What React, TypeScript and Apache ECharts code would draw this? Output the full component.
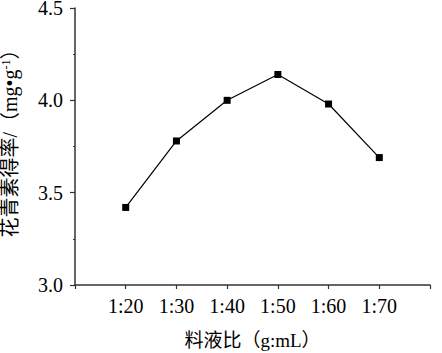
import React, { useEffect, useRef } from "react";
import * as echarts from "echarts";

const categories = ["", "1:20", "1:30", "1:40", "1:50", "1:60", "1:70", ""];
const values: (number | null)[] = [null, 3.42, 3.78, 4.0, 4.14, 3.98, 3.69, null];
const yTicks = { min: 3.0, max: 4.5, interval: 0.5 };

const SERIF = '"Liberation Serif", "Times New Roman", "Noto Sans CJK SC", serif';
const AXIS_COLOR = "#333";

export default function App() {
  const ref = useRef<HTMLDivElement>(null);
  useEffect(() => {
    if (!ref.current) return;
    const chart = echarts.init(ref.current, null, { renderer: "svg" });
    chart.setOption({
      animation: false,
      backgroundColor: "#fff",
      grid: { left: 75, right: 12, top: 8, bottom: 68, containLabel: false, outerBoundsMode: "none" },
      xAxis: {
        type: "category",
        data: categories,
        boundaryGap: false,
        name: "料液比（g:mL）",
        nameLocation: "middle",
        nameGap: 46,
        nameTextStyle: { fontFamily: SERIF, fontSize: 19, color: "#000" },
        axisLine: { lineStyle: { color: AXIS_COLOR, width: 1.5 } },
        axisTick: { show: true, length: 4, interval: 0, lineStyle: { color: AXIS_COLOR, width: 1.2 } },
        axisLabel: { interval: 0, margin: 11, fontFamily: SERIF, fontSize: 20, color: "#000" },
        splitLine: { show: false },
      },
      yAxis: {
        type: "value",
        min: yTicks.min,
        max: yTicks.max,
        interval: yTicks.interval,
        name: "{a|花青素得率/（mg•g}{s|-1}{a|）}",
        nameLocation: "middle",
        nameGap: 55,
        nameTextStyle: {
          fontFamily: SERIF,
          fontSize: 20,
          color: "#000",
          padding: [0, 0, 0, 16],
          rich: {
            a: { fontFamily: SERIF, fontSize: 20, color: "#000" },
            s: { fontFamily: SERIF, fontSize: 12, color: "#000", verticalAlign: "top" },
          },
        },
        axisLine: { show: true, lineStyle: { color: AXIS_COLOR, width: 1.5 } },
        axisTick: { show: true, length: 5, lineStyle: { color: AXIS_COLOR, width: 1.2 } },
        minorTick: { show: true, splitNumber: 2, length: 2, lineStyle: { color: AXIS_COLOR, width: 1 } },
        axisLabel: {
          margin: 12,
          fontFamily: SERIF,
          fontSize: 20,
          lineHeight: 15,
          color: "#000",
          formatter: (v: number) => v.toFixed(1),
        },
        splitLine: { show: false },
      },
      series: [
        {
          type: "line",
          data: values,
          symbol: "rect",
          symbolSize: 7,
          connectNulls: false,
          lineStyle: { color: "#000", width: 1.2 },
          itemStyle: { color: "#000" },
        },
      ],
    });
    return () => chart.dispose();
  }, []);
  return <div ref={ref} style={{ width: 442, height: 353, position: "absolute", left: 0, top: 0 }} />;
}
